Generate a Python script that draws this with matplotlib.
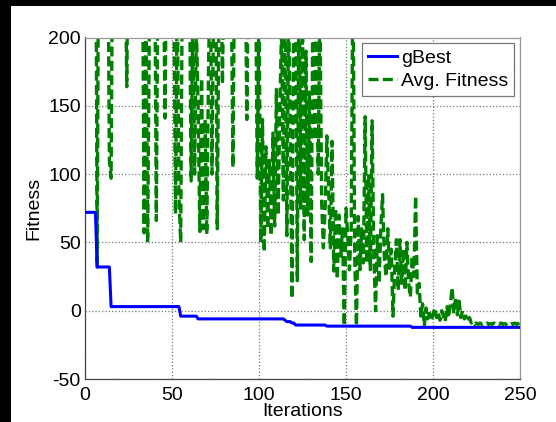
import matplotlib
matplotlib.use("Agg")
import matplotlib.pyplot as plt
from matplotlib.patches import Rectangle

plt.rcParams['font.family'] = ['Liberation Sans', 'DejaVu Sans']
plt.rcParams['axes.unicode_minus'] = False

iterations = list(range(0, 251))

gbest = ([72] * 7 + [32] * 8 + [3] * 40 + [-4] * 10 + [-6] * 50 +
         [-7, -8, -8, -8, -9, -9] + [-10.5] * 18 + [-11.3] * 49 + [-12.2] * 63)

avg_fitness = [
    900, 700, 600, 500, 450, 420, 380, 32, 350, 330,
    300, 320, 290, 310, 110, 97, 300, 280, 320, 300,
    290, 270, 310, 280, 164, 300, 290, 270, 300, 280,
    260, 300, 280, 270, 57, 230, 50, 210, 290, 260,
    280, 66, 270, 300, 280, 260, 141, 290, 270, 300,
    280, 250, 71, 240, 83, 50, 260, 280, 300, 270,
    250, 95, 230, 100, 210, 150, 58, 170, 60, 140,
    56, 180, 250, 100, 240, 280, 60, 230, 260, 166,
    270, 300, 260, 280, 250, 105, 260, 290, 280, 270,
    300, 260, 280, 140, 270, 290, 260, 280, 250, 97,
    230, 50, 140, 43, 120, 60, 110, 55, 130, 62,
    162, 70, 150, 210, 81, 260, 55, 230, 120, 9,
    240, 260, 22, 250, 75, 220, 52, 190, 70, 160,
    36, 240, 125, 260, 100, 230, 80, 46, 75, 128,
    90, 46, 124, 29, 75, 23, 70, 40, 60, -11,
    75, 55, 30, 60, 260, 40, -11, 69, 30, 60,
    35, 142, 35, 100, 30, 139, 40, 0, 55, 20,
    60, 85, 40, 25, 60, 30, 45, -4, 30, 52,
    15, 52, 20, 45, 15, 50, 20, 10, 40, 25,
    84, 13, 20, -4, 5, -11, 2, -6, -2, -7,
    -3, 2, -5, -1, -7, 0, -4, -8, 3, -5,
    5, 17, -2, 10, -3, 7, -5, 0, -6, -4,
    -8, -5, -9, -8, -10, -9, -10, -9, -10, -9.5,
    -10, -9, -10, -9.5, -10, -9, -10, -9.5, -10, -9,
    -10, -9.5, -10, -9, -10, -9.5, -10, -9, -10, -9.5,
    -8.5,
]

xticks = [0, 50, 100, 150, 200, 250]
yticks = [-50, 0, 50, 100, 150, 200]

fig = plt.figure(figsize=(5.56, 4.22), dpi=100)
fig.patch.set_facecolor('white')
ax = fig.add_axes([85 / 556, 1 - 379 / 422, 435 / 556, 341.5 / 422])

ax.plot(iterations, gbest, color='#0000ff', lw=2.2, label='gBest', zorder=3)
ax.plot(iterations, avg_fitness, color='#008000', lw=2.4, ls='--',
        dashes=(3.0, 1.3), label='Avg. Fitness', zorder=2)

ax.set_xlim(0, 250)
ax.set_ylim(-50, 200)
ax.set_xticks(xticks)
ax.set_yticks(yticks)
ax.tick_params(axis='both', length=0, labelsize=14, colors='black')
ax.tick_params(axis='x', pad=6)
ax.tick_params(axis='y', pad=3)
ax.grid(True, ls=':', color='#777777', lw=0.9)
for s in ['left', 'bottom']:
    ax.spines[s].set_color('#444444')
    ax.spines[s].set_linewidth(0.9)
for s in ['top', 'right']:
    ax.spines[s].set_color('#999999')
    ax.spines[s].set_linewidth(0.9)

ax.set_xlabel('Iterations', fontsize=14, labelpad=-1)
ax.set_ylabel('Fitness', fontsize=14, labelpad=4)

leg = ax.legend(loc='upper right', fontsize=14, fancybox=False, framealpha=1,
                edgecolor='#777777', borderaxespad=0.3, labelspacing=0.3,
                handlelength=1.5, handletextpad=0.2, borderpad=0.3)
leg.get_frame().set_linewidth(0.9)

fig.patches.append(Rectangle((0, 0), 11 / 556, 1, transform=fig.transFigure,
                             facecolor='black', edgecolor='none', zorder=10))
fig.patches.append(Rectangle((0, 1 - 6 / 422), 1, 6 / 422, transform=fig.transFigure,
                             facecolor='black', edgecolor='none', zorder=10))

fig.savefig('out.png', dpi=100)
